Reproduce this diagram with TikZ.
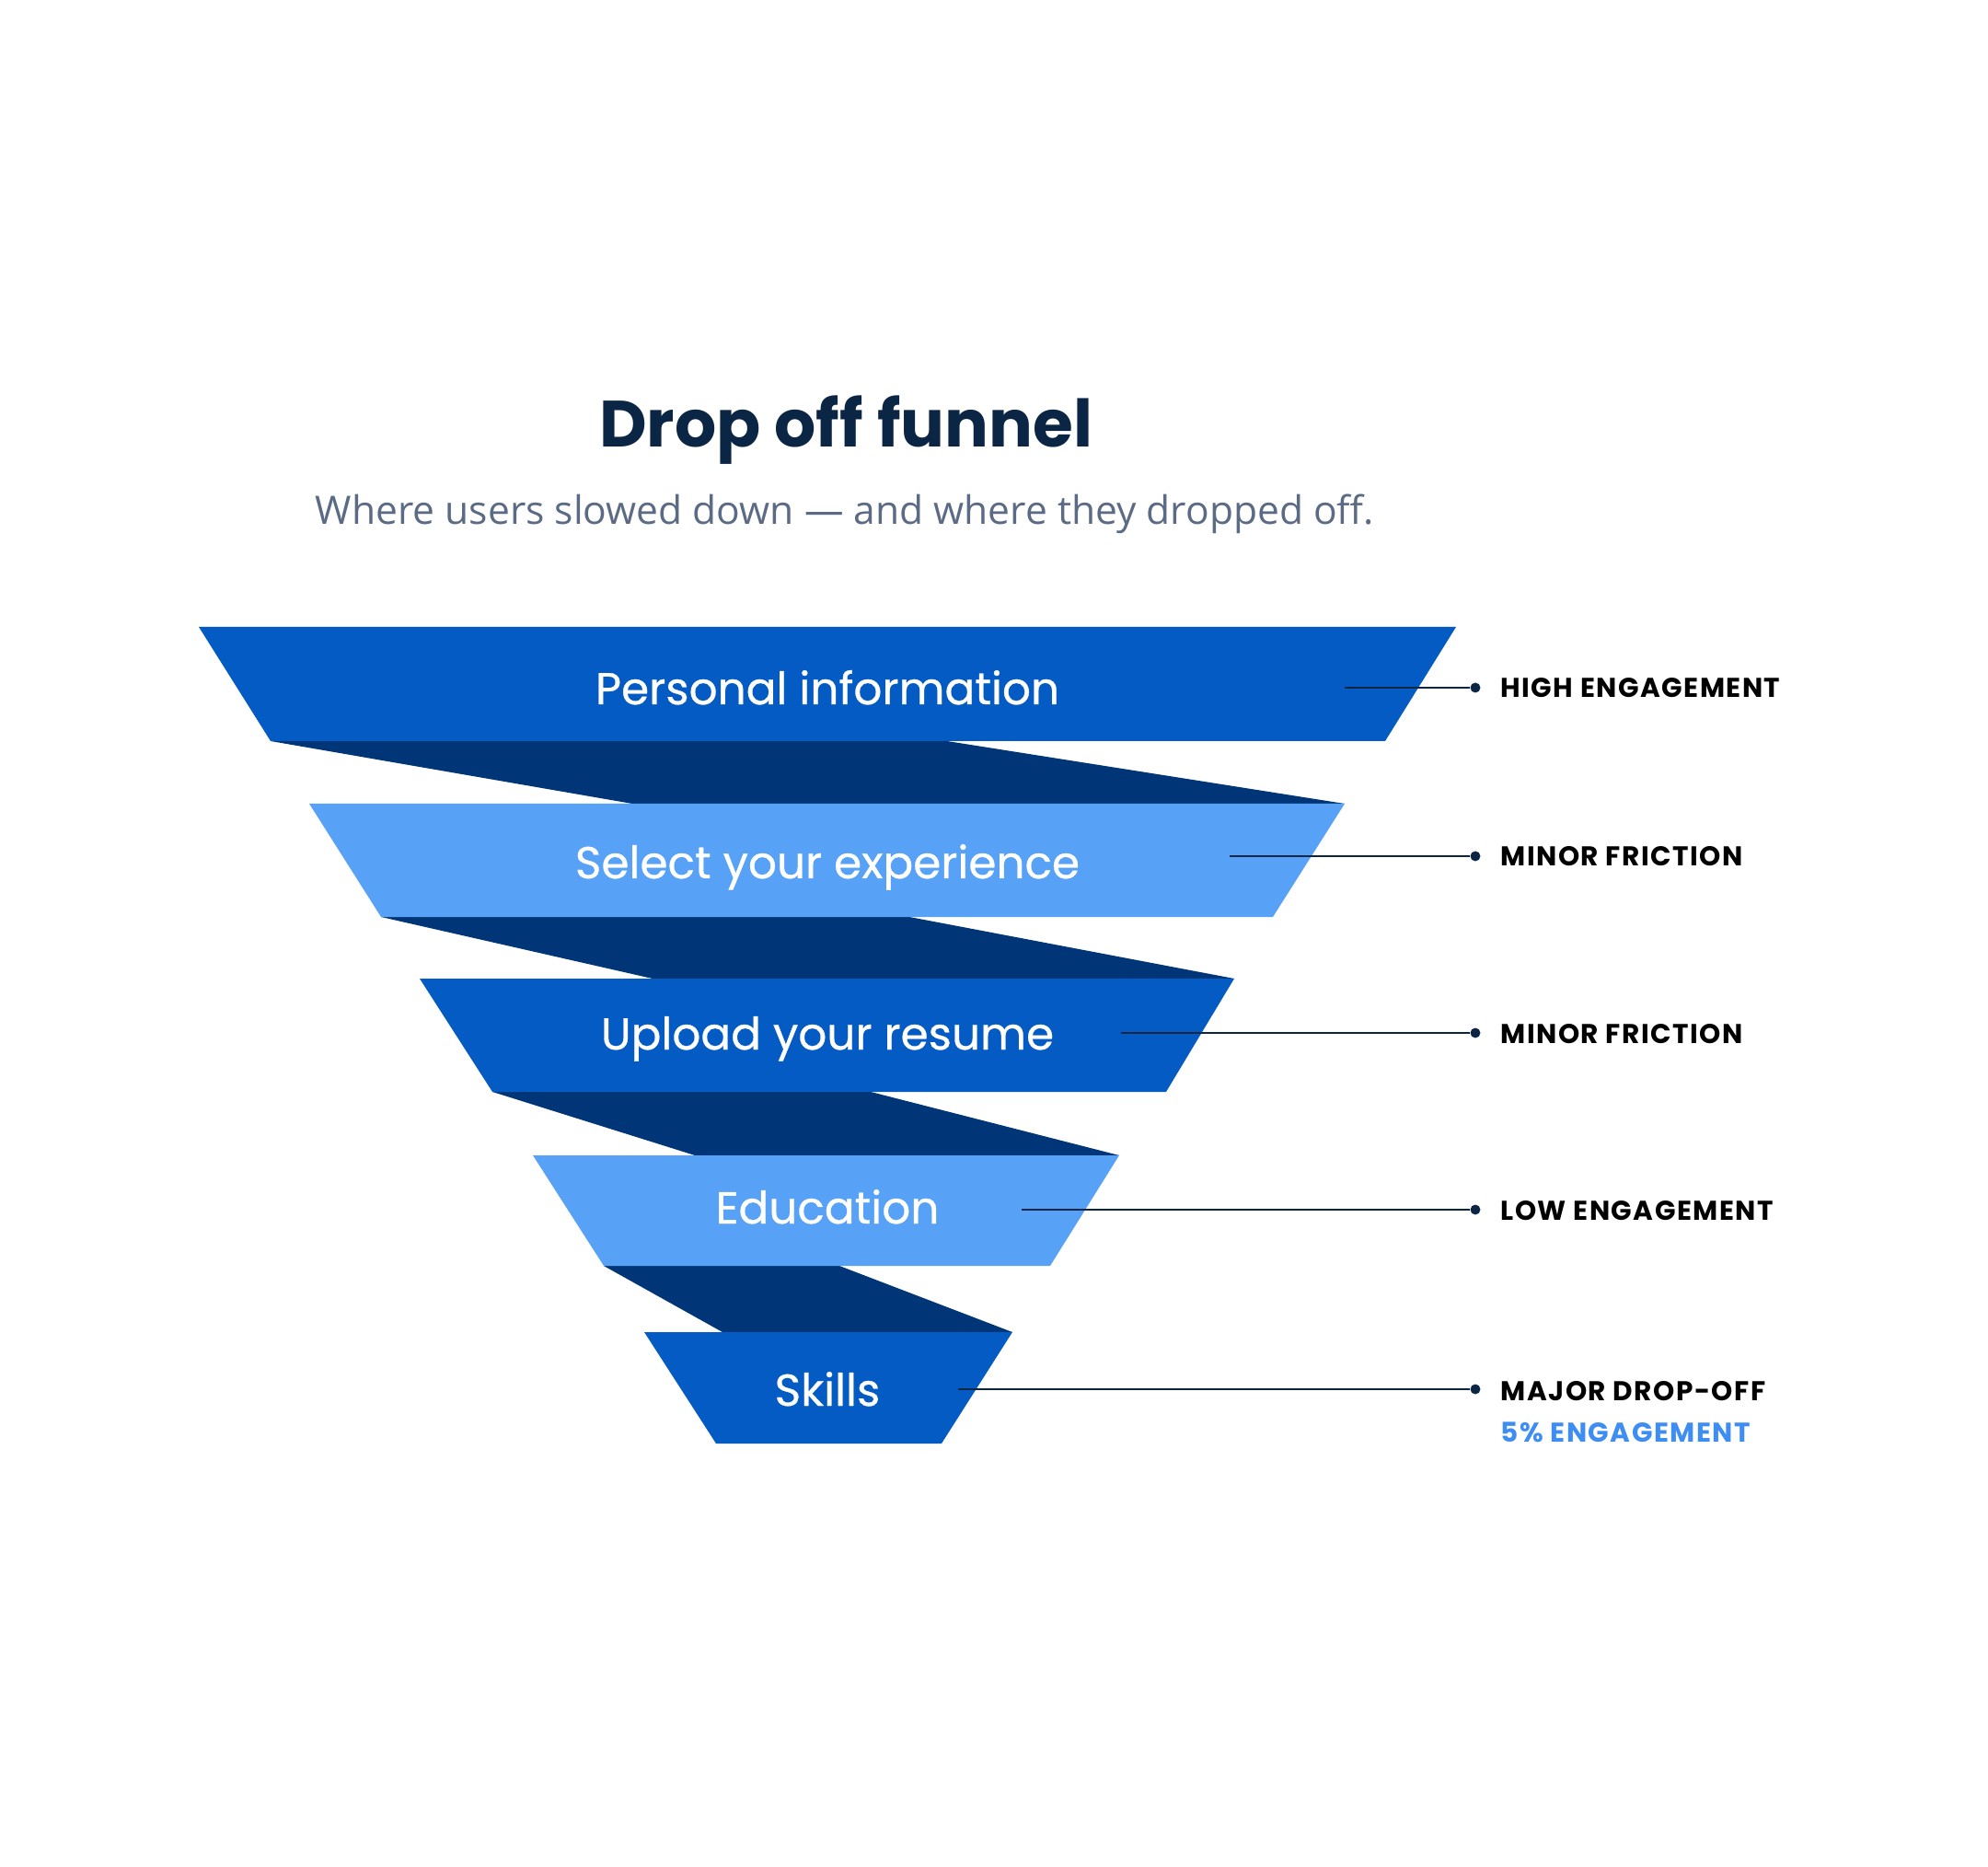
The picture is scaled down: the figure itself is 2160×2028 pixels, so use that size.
\documentclass[tikz,border=0pt]{standalone}
\usepackage{fontspec}
\setmainfont{Poppins}
\newfontfamily\stepfont[FakeBold=0.6]{Poppins}
\newfontfamily\subfont{Open Sans}
\newfontfamily\tagfont[LetterSpace=5]{Poppins}
\usetikzlibrary{positioning}
\definecolor{bandblue}{HTML}{055BC4}
\definecolor{bandlight}{HTML}{57A1F6}
\definecolor{dropnavy}{HTML}{003677}
\definecolor{inkdark}{HTML}{0B2545}
\definecolor{subgrey}{HTML}{5B6B85}
\definecolor{tagblue}{HTML}{3D8DF2}

\begin{document}
\begin{tikzpicture}[x=0.01cm,y=-0.01cm,
  every node/.style={inner sep=0pt},
  steplabel/.style={anchor=base,text=white,font=\stepfont\fontsize{13.8}{16}\selectfont},
  tag/.style={anchor=base west,text=black,font=\tagfont\bfseries\fontsize{8.4}{10}\selectfont},
  dot/.style={circle,fill=inkdark,minimum size=3.1pt},
  leader/.style={draw=inkdark,line width=0.6pt}]
  \fill[white] (0,0) rectangle (2160,2028);
  \useasboundingbox (0,0) rectangle (2160,2028);
  \node[anchor=base,text=inkdark,font=\bfseries\fontsize{20.2}{24}\selectfont] (title) at (919,486) {Drop off funnel};
  \node[anchor=base,text=subgrey,font=\subfont\fontsize{12.1}{14}\selectfont] (subtitle) at (918,570) {Where users slowed down — and where they dropped off.};
  % drop-off bands
  \fill[dropnavy] (294,805) -- (1029,805) -- (1461,873) -- (687,873) -- cycle;
  \fill[dropnavy] (414,996) -- (988,996) -- (1341,1063) -- (709,1063) -- cycle;
  \fill[dropnavy] (535,1186) -- (946,1186) -- (1216,1255) -- (755,1255) -- cycle;
  \fill[dropnavy] (656,1375) -- (912,1375) -- (1100,1447) -- (785,1447) -- cycle;
  % funnel steps
  \fill[bandblue]  (216,681) -- (1582,681) -- (1505,805) -- (294,805) -- cycle;
  \fill[bandlight] (336,873) -- (1461,873) -- (1383,996) -- (414,996) -- cycle;
  \fill[bandblue]  (456,1063) -- (1341,1063) -- (1267,1186) -- (535,1186) -- cycle;
  \fill[bandlight] (579,1255) -- (1216,1255) -- (1141,1375) -- (656,1375) -- cycle;
  \fill[bandblue]  (700,1447) -- (1100,1447) -- (1023,1568) -- (778,1568) -- cycle;
  \node[steplabel] (s1) at (899,765) {Personal information};
  \node[steplabel] (s2) at (899,954) {Select your experience};
  \node[steplabel] (s3) at (899,1140) {Upload your resume};
  \node[steplabel] (s4) at (899,1329) {Education};
  \node[steplabel] (s5) at (899,1527) {Skills};
  % leaders
  \coordinate (a1) at (1461,747);
  \coordinate (a2) at (1336,930);
  \coordinate (a3) at (1218,1122);
  \coordinate (a4) at (1110,1314);
  \coordinate (a5) at (1041,1509);
  \node[dot] (d1) at (1603,747) {};
  \node[dot] (d2) at (1603,930) {};
  \node[dot] (d3) at (1603,1122) {};
  \node[dot] (d4) at (1603,1314) {};
  \node[dot] (d5) at (1603,1509) {};
  \draw[leader] (a1) -- (d1);
  \draw[leader] (a2) -- (d2);
  \draw[leader] (a3) -- (d3);
  \draw[leader] (a4) -- (d4);
  \draw[leader] (a5) -- (d5);
  \node[tag] (t1) at (1630,758) {HIGH ENGAGEMENT};
  \node[tag] (t2) at (1630,941) {MINOR FRICTION};
  \node[tag] (t3) at (1630,1133) {MINOR FRICTION};
  \node[tag] (t4) at (1630,1325) {LOW ENGAGEMENT};
  \node[tag] (t5) at (1630,1521) {MAJOR DROP-OFF};
  \node[tag,text=tagblue] (t6) at (1630,1566) {5\% ENGAGEMENT};
\end{tikzpicture}
\end{document}
